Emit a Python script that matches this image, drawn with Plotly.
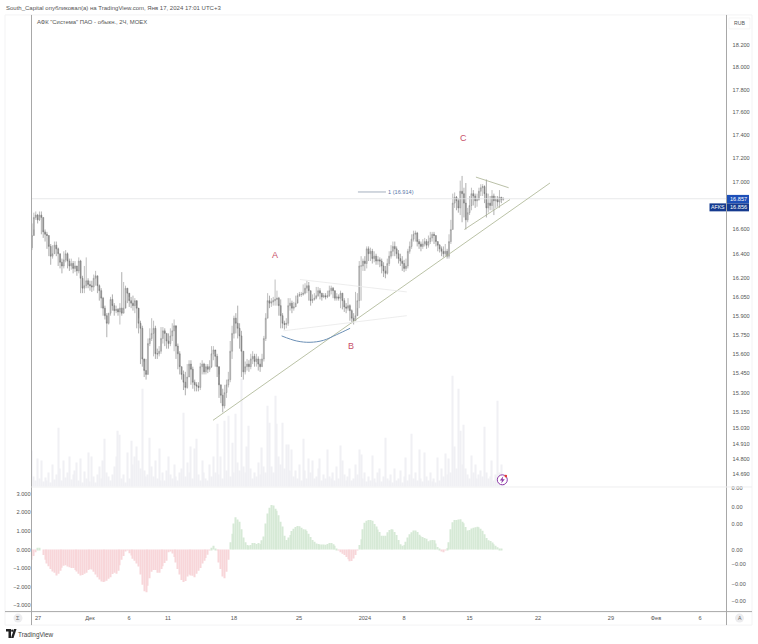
import math
import plotly.graph_objects as go

opens = [16.45,16.55,16.70,16.72,16.68,16.72,16.70,16.58,16.56,16.55,16.46,16.38,16.40,16.47,16.44,16.40,16.33,16.30,16.35,16.40,
16.34,16.30,16.32,16.28,16.30,16.26,16.34,16.20,16.12,16.14,16.18,16.15,16.14,16.13,16.20,16.22,16.14,16.10,16.04,15.96,
15.90,15.84,15.92,16.03,15.98,15.94,15.95,15.93,15.96,15.92,15.96,16.12,16.08,16.02,16.00,15.98,16.02,15.96,15.84,15.80,
15.56,15.47,15.44,15.68,15.72,15.76,15.80,15.60,15.60,15.62,15.72,15.78,15.76,15.70,15.68,15.74,15.78,15.82,15.66,15.60,
15.50,15.44,15.38,15.34,15.42,15.52,15.48,15.38,15.36,15.35,15.34,15.50,15.52,15.46,15.50,15.48,15.50,15.60,15.63,15.58,
15.50,15.36,15.28,15.20,15.30,15.36,15.40,15.62,15.76,15.88,15.84,15.80,15.74,15.62,15.46,15.50,15.52,15.50,15.56,15.58,
15.54,15.56,15.52,15.50,15.56,15.72,15.88,16.02,16.00,16.01,16.02,16.03,16.04,15.98,15.90,15.84,15.83,15.84,15.98,16.00,
15.96,15.97,16.00,16.06,16.07,16.07,16.08,16.12,16.14,16.10,16.02,16.03,16.04,16.06,16.10,16.08,16.05,16.06,16.05,16.06,
16.10,16.12,16.10,16.04,16.05,16.04,16.08,16.02,15.97,15.96,15.98,15.94,15.88,15.86,15.90,16.02,16.30,16.30,16.34,16.32,
16.44,16.40,16.42,16.36,16.38,16.34,16.35,16.34,16.30,16.26,16.24,16.32,16.38,16.42,16.46,16.44,16.40,16.36,16.34,16.32,
16.28,16.30,16.42,16.46,16.52,16.56,16.57,16.50,16.48,16.46,16.48,16.50,16.47,16.50,16.53,16.56,16.55,16.50,16.47,16.44,
16.42,16.40,16.42,16.38,16.50,16.60,16.82,16.87,16.84,16.78,16.92,16.90,16.82,16.68,16.74,16.80,16.90,16.88,16.84,16.85,
16.92,16.95,16.96,16.90,16.78,16.82,16.80,16.88,16.84,16.85,16.83,16.87,16.85]

highs = [16.65,16.74,16.75,16.73,16.75,16.75,16.70,16.60,16.58,16.55,16.48,16.47,16.50,16.50,16.45,16.40,16.36,16.42,16.43,16.41,
16.36,16.36,16.34,16.34,16.30,16.37,16.35,16.22,16.30,16.37,16.20,16.18,16.18,16.23,16.26,16.22,16.15,16.12,16.05,15.98,
15.92,15.92,16.05,16.07,16.00,15.98,15.96,16.00,16.25,16.17,16.14,16.12,16.05,16.05,16.06,16.04,15.98,15.88,15.86,15.82,
15.54,15.56,15.72,15.80,15.88,15.86,15.82,15.64,15.66,15.81,15.81,15.80,15.76,15.76,15.80,15.84,15.87,15.80,15.68,15.62,
15.50,15.47,15.46,15.52,15.55,15.55,15.50,15.40,15.38,15.38,15.53,15.55,15.53,15.52,15.52,15.55,15.66,15.66,15.62,15.60,
15.44,15.36,15.33,15.36,15.40,15.46,15.70,15.82,15.90,15.92,15.98,15.84,15.78,15.62,15.54,15.56,15.55,15.60,15.62,15.60,
15.60,15.58,15.56,15.60,15.74,15.92,16.08,16.06,16.04,16.05,16.19,16.10,16.05,16.03,15.92,15.86,15.88,16.04,16.04,16.02,
16.01,16.06,16.08,16.09,16.09,16.15,16.16,16.18,16.17,16.10,16.07,16.08,16.13,16.13,16.12,16.08,16.08,16.08,16.10,16.14,
16.14,16.13,16.10,16.08,16.07,16.10,16.08,16.04,16.00,16.04,15.99,15.95,15.92,16.09,16.08,16.34,16.38,16.36,16.38,16.46,
16.46,16.45,16.44,16.42,16.40,16.38,16.37,16.36,16.33,16.30,16.36,16.42,16.47,16.50,16.50,16.46,16.43,16.40,16.38,16.35,
16.36,16.44,16.50,16.56,16.59,16.59,16.58,16.52,16.50,16.52,16.53,16.52,16.55,16.58,16.58,16.58,16.55,16.50,16.48,16.46,
16.46,16.48,16.44,16.56,16.68,16.90,16.91,16.88,16.86,17.01,17.05,16.95,16.99,16.78,16.88,16.95,16.93,16.90,16.90,16.95,
16.98,16.98,16.97,17.02,16.90,16.88,16.93,16.90,16.88,16.88,16.93,16.87,16.87]

lows = [16.43,16.60,16.68,16.65,16.67,16.56,16.53,16.50,16.44,16.38,16.31,16.36,16.40,16.38,16.30,16.28,16.24,16.28,16.33,16.28,
16.26,16.27,16.24,16.25,16.22,16.24,16.08,16.08,16.08,16.12,16.12,16.10,16.09,16.10,16.14,16.08,16.02,15.96,15.90,15.87,
15.73,15.83,15.90,15.94,15.90,15.92,15.90,15.83,15.90,15.92,16.02,16.00,15.97,15.96,15.94,15.92,15.80,15.76,15.52,15.50,
15.42,15.40,15.44,15.66,15.70,15.58,15.56,15.56,15.58,15.60,15.68,15.66,15.64,15.64,15.66,15.70,15.62,15.56,15.48,15.44,
15.40,15.32,15.28,15.33,15.42,15.36,15.33,15.31,15.31,15.31,15.32,15.44,15.44,15.44,15.45,15.46,15.49,15.55,15.50,15.42,
15.26,15.22,15.15,15.18,15.26,15.34,15.38,15.56,15.72,15.76,15.72,15.64,15.42,15.40,15.44,15.47,15.46,15.48,15.52,15.50,
15.50,15.47,15.46,15.50,15.54,15.70,15.88,15.96,15.97,15.98,15.98,15.98,15.90,15.80,15.80,15.79,15.80,15.82,15.94,15.92,
15.94,15.97,16.03,16.05,16.05,16.06,16.07,16.08,16.02,15.98,16.00,16.02,16.03,16.05,16.03,16.02,16.04,16.03,16.04,16.05,
16.07,16.04,16.02,16.02,16.02,15.96,15.95,15.93,15.92,15.94,15.86,15.84,15.83,15.86,15.96,15.96,16.02,16.26,16.26,16.28,
16.34,16.34,16.32,16.33,16.31,16.31,16.29,16.24,16.21,16.20,16.23,16.30,16.36,16.38,16.38,16.36,16.32,16.30,16.26,16.25,
16.26,16.28,16.40,16.44,16.50,16.50,16.46,16.44,16.42,16.44,16.46,16.44,16.45,16.48,16.50,16.48,16.46,16.42,16.41,16.38,
16.37,16.38,16.36,16.36,16.48,16.60,16.78,16.76,16.74,16.72,16.66,16.70,16.60,16.66,16.72,16.76,16.80,16.78,16.79,16.84,
16.88,16.88,16.82,16.70,16.74,16.76,16.76,16.72,16.78,16.79,16.78,16.82,16.84]

closes = [16.55,16.70,16.72,16.68,16.72,16.70,16.58,16.56,16.55,16.46,16.38,16.40,16.47,16.44,16.40,16.33,16.30,16.35,16.40,16.34,
16.30,16.32,16.28,16.30,16.26,16.34,16.20,16.12,16.14,16.18,16.15,16.14,16.13,16.20,16.22,16.14,16.10,16.04,15.96,15.90,
15.84,15.92,16.03,15.98,15.94,15.95,15.93,15.96,15.92,15.96,16.12,16.08,16.02,16.00,15.98,16.02,15.96,15.84,15.80,15.56,
15.47,15.44,15.68,15.72,15.76,15.80,15.60,15.60,15.62,15.72,15.78,15.76,15.70,15.68,15.74,15.78,15.82,15.66,15.60,15.50,
15.44,15.38,15.34,15.42,15.52,15.48,15.38,15.36,15.35,15.34,15.50,15.52,15.46,15.50,15.48,15.50,15.60,15.63,15.58,15.50,
15.36,15.28,15.20,15.30,15.36,15.40,15.62,15.76,15.88,15.84,15.80,15.74,15.62,15.46,15.50,15.52,15.50,15.56,15.58,15.54,
15.56,15.52,15.50,15.56,15.72,15.88,16.02,16.00,16.01,16.02,16.03,16.04,15.98,15.90,15.84,15.83,15.84,15.98,16.00,15.96,
15.97,16.00,16.06,16.07,16.07,16.08,16.12,16.14,16.10,16.02,16.03,16.04,16.06,16.10,16.08,16.05,16.06,16.05,16.06,16.10,
16.12,16.10,16.04,16.05,16.04,16.08,16.02,15.97,15.96,15.98,15.94,15.88,15.86,15.90,16.02,16.30,16.30,16.34,16.32,16.44,
16.40,16.42,16.36,16.38,16.34,16.35,16.34,16.30,16.26,16.24,16.32,16.38,16.42,16.46,16.44,16.40,16.36,16.34,16.32,16.28,
16.30,16.42,16.46,16.52,16.56,16.57,16.50,16.48,16.46,16.48,16.50,16.47,16.50,16.53,16.56,16.55,16.50,16.47,16.44,16.42,
16.40,16.42,16.38,16.50,16.60,16.82,16.87,16.84,16.78,16.92,16.90,16.82,16.68,16.74,16.80,16.90,16.88,16.84,16.85,16.92,
16.95,16.96,16.90,16.78,16.82,16.80,16.88,16.84,16.85,16.83,16.87,16.85,16.856]

volumes = [36,10,6,28,8,26,5,9,6,14,4,22,7,12,59,18,6,26,9,14,
30,7,12,16,24,6,28,4,15,8,34,5,30,10,4,12,20,8,26,48,
14,10,6,12,20,30,56,52,8,12,4,34,8,46,22,30,40,26,18,98,
16,10,12,49,20,10,26,8,38,6,14,6,16,30,12,8,22,10,6,14,
18,74,10,24,14,40,8,38,48,12,6,26,14,8,6,22,10,30,14,63,
12,30,8,66,16,71,10,44,14,73,24,16,108,20,14,40,61,18,8,14,
10,24,12,39,20,14,81,64,20,14,91,63,30,22,64,18,42,42,16,37,
10,16,8,22,6,48,16,8,28,14,26,8,10,18,28,6,12,8,37,10,
8,14,6,20,8,41,26,12,6,10,18,6,8,22,12,37,32,8,14,5,
10,6,31,8,4,14,18,5,10,49,8,6,12,4,18,6,8,16,4,10,
29,6,12,53,8,14,6,37,8,5,34,10,6,14,5,8,4,29,6,18,
10,33,12,28,14,111,40,18,98,56,22,62,18,12,8,31,14,22,8,12,
16,10,60,14,8,10,26,6,12,86,14,22,4]

oscillator = [-.55,-.35,-.15,.1,.1,0,-.3,-.55,-.75,-.9,-1.05,-1.18,-1.25,-1.4,-1.3,-1.15,-.98,-.88,-.85,-.92,
-.95,-1.0,-1.0,-1.1,-1.18,-1.3,-1.4,-1.38,-1.3,-1.25,-1.1,-1.05,-1.08,-1.2,-1.35,-1.5,-1.62,-1.72,-1.75,-1.72,
-1.68,-1.58,-1.5,-1.32,-1.25,-1.3,-1.15,-.85,-.55,-.35,-.1,-.05,-.2,-.32,-.5,-.6,-.75,-.92,-1.35,-1.9,
-2.25,-2.3,-1.95,-1.55,-1.2,-1.1,-1.1,-1.25,-1.25,-1.05,-.9,-.72,-.6,-.15,-.1,-.22,-.4,-.7,-1.05,-1.35,
-1.65,-1.75,-1.7,-1.45,-1.35,-1.4,-1.42,-1.5,-1.3,-1.15,-1.0,-.75,-.6,-.45,-.28,-.05,.1,.2,.05,-.05,
-.7,-1.05,-1.45,-1.55,-1.2,-.55,.4,.85,1.4,1.75,1.62,1.5,1.1,.65,.4,.25,.2,.25,.35,.35,
.3,.35,.3,.5,.7,1.4,1.95,2.25,2.4,2.38,2.2,2.1,1.85,
1.5,1.25,.75,.52,.65,.78,1.0,1.12,1.22,1.27,1.26,1.17,1.1,1.08,1.0,.85,.68,.52,.42,.33,
.3,.27,.27,.27,.26,.3,.35,.36,.28,.2,.06,-.05,-.15,-.23,-.3,-.4,-.52,-.63,-.62,-.48,
-.3,-.05,.25,.55,1.1,1.45,1.55,1.6,1.6,1.55,1.38,1.25,1.08,.95,.75,.75,.75,.93,1.06,1.1,
1.08,.95,.78,.52,.28,.2,.24,.42,.65,.83,.93,1.03,1.03,.95,.8,.72,.68,.63,.58,.45,
.5,.52,.5,.32,.14,.04,-.07,-.15,-.05,.08,.4,1.1,1.48,1.6,1.6,1.62,1.63,1.5,1.42,1.22,
1.03,1.05,1.14,1.18,1.2,1.23,1.2,1.12,1.02,.82,.62,.5,.46,.38,.28,.2,.12,.03,.02]

x_tick_bars = [3.2,31,51.9,72.7,108,142.8,178,199,234,270.6,309.6,333.7,357.2]
x_tick_labels = ["27","Дек","6","11","18","25","2024","8","15","22","29","Фев","6"]
price_ticks = [18.2,18.0,17.8,17.6,17.4,17.2,17.0,16.6,16.4,16.2,16.05,15.9,15.75,15.6,15.45,15.3,15.15,15.03,14.91,14.8,14.69]
price_tick_labels = ["18.200","18.000","17.800","17.600","17.400","17.200","17.000","16.600","16.400","16.200","16.050","15.900","15.750","15.600","15.450","15.300","15.150","15.030","14.910","14.800","14.690"]
osc_ticks = [3,2,1,0,-1,-2,-3]
osc_tick_labels = ["3.000","2.000","1.000","0.000","−1.000","−2.000","−3.000"]
osc_right_ticks = [3.3,2.27,1.4,0,-.8,-1.84,-2.8]
osc_right_labels = ["0.00","0.00","0.00","0.00","−0.00","−0.00","−0.00"]

trend_bars = [96.8,277]; trend_prices = [15.09,16.99]
tri_up_bars = [237.4,254.9]; tri_up_prices = [17.04,16.95]
tri_lo_bars = [231.2,255.6]; tri_lo_prices = [16.60,16.85]
light_up_bars = [143.3,200.4]; light_up_prices = [16.19,16.09]
light_lo_bars = [134.4,200.4]; light_lo_prices = [15.78,15.90]
arc_bars = [133.5,141.6,148.7,155.8,162.9,170.1]; arc_prices = [15.74,15.70,15.69,15.705,15.75,15.80]
fib_bars = [174.3,189.3]; fib_prices = [16.914,16.914]
last_price = 16.857
wave_labels = [("A",130,16.39),("B",170.6,15.66),("C",231,17.38)]

FONT = "Liberation Sans"
def px(x): return x/758
def py(y): return 1-y/644

bars = list(range(len(closes)))
y_low, y_high = math.log10(14.61), math.log10(18.483)
x_range = [-0.27, 371.4]

fig = go.Figure()
fig.add_trace(go.Bar(x=list(range(len(volumes))), y=volumes, yaxis="y", marker=dict(color="#f0f0f4", line_width=0), width=0.62, hoverinfo="skip"))
fig.add_trace(go.Bar(x=list(range(len(oscillator))), y=oscillator, yaxis="y2",
    marker=dict(color=["#d6e9d6" if v >= 0 else "#f8d6d9" for v in oscillator], line_width=0), width=0.55, hoverinfo="skip"))
fig.add_trace(go.Scatter(x=[0], y=[0], yaxis="y3", mode="markers", marker=dict(opacity=0), hoverinfo="skip"))

def line(xs, ys, color, width=0.8, dash="solid", shape="linear"):
    fig.add_trace(go.Scatter(x=xs, y=ys, yaxis="y4", mode="lines", line=dict(color=color, width=width, dash=dash, shape=shape, smoothing=1), hoverinfo="skip"))

line(x_range, [last_price, last_price], "#e2e3e6", 0.8)
fig.add_trace(go.Candlestick(x=bars, open=opens, high=highs, low=lows, close=closes, yaxis="y4", whiskerwidth=0, opacity=0.9,
    increasing=dict(line=dict(color="#808080", width=0.55), fillcolor="#c4c4c4"),
    decreasing=dict(line=dict(color="#5e5e5e", width=0.55), fillcolor="#949494"), hoverinfo="skip"))
line(trend_bars, trend_prices, "#b2bb9c", 0.9)
line(tri_up_bars, tri_up_prices, "#a8b090", 0.8)
line(tri_lo_bars, tri_lo_prices, "#a8b090", 0.8)
line(light_up_bars, light_up_prices, "#e8e9e8", 0.8)
line(light_lo_bars, light_lo_prices, "#e8e9e8", 0.8)
line(arc_bars, arc_prices, "#6b8fb5", 1.0, shape="spline")
line(fib_bars, fib_prices, "#9aa7b8", 0.9)

annotations = [
    dict(text=t, x=b, y=math.log10(p), xref="x", yref="y4", showarrow=False, font=dict(family=FONT, size=9, color="#c8506a"))
    for t, b, p in wave_labels
]
annotations.append(dict(text="1 (16.914)", x=197.3, y=math.log10(16.914), xref="x", yref="y4", showarrow=False, font=dict(family=FONT, size=5.6, color="#5b78a8")))

def label(text, x, y, size=6, color="#555", anchor="left", **kw):
    annotations.append(dict(text=text, x=px(x), y=py(y), xref="paper", yref="paper", xanchor=anchor, yanchor="middle",
        showarrow=False, font=dict(family=FONT, size=size, color=color), **kw))

label("South_Capital опубликовал(а) на TradingView.com, Янв 17, 2024 17:01 UTC+3", 3.5, 6.3, 6.0)
label("АФК \"Система\" ПАО - обыкн., 2Ч, MOEX", 34.5, 20, 5.9)
label("RUB", 739.5, 21, 5.2, anchor="center")
label("16.857", 738, 197.5, 5.6, "#ffffff", "center")
label("16.856", 738, 205.5, 5.6, "#ffffff", "center")
label("AFKS", 717.5, 205.5, 5.2, "#ffffff", "center")
label("Σ", 18, 618, 5.6, "#666", "center")
label("A", 739.5, 618, 5.2, "#666", "center")
label("TradingView", 15.5, 635, 6.4, "#444")

def rect(x0, y0, x1, y1, fill=None, color=None, width=0, layer="above"):
    return dict(type="rect", xref="paper", yref="paper", x0=px(x0), x1=px(x1), y0=py(y0), y1=py(y1),
                fillcolor=fill or "rgba(0,0,0,0)", line=dict(color=color or "rgba(0,0,0,0)", width=width), layer=layer)
def seg(x0, y0, x1, y1, color, width=1):
    return dict(type="line", xref="paper", yref="paper", x0=px(x0), x1=px(x1), y0=py(y0), y1=py(y1), line=dict(color=color, width=width))
def circ(cx, cy, r, fill=None, color=None, width=0):
    return dict(type="circle", xref="paper", yref="paper", x0=px(cx-r), x1=px(cx+r), y0=py(cy-r), y1=py(cy+r),
                fillcolor=fill or "rgba(0,0,0,0)", line=dict(color=color or "rgba(0,0,0,0)", width=width))
def poly(points, fill):
    d = "M " + " L ".join(f"{px(a):.5f} {py(b):.5f}" for a, b in points) + " Z"
    return dict(type="path", xref="paper", yref="paper", path=d, fillcolor=fill, line=dict(width=0))

shapes = [
    rect(5, 13, 752, 625, None, "#f3f3f4", 1, "below"),
    seg(31.5, 13, 31.5, 625, "#a8a8a8", 1),
    seg(726.5, 13, 726.5, 625, "#a8a8a8", 1),
    seg(5, 611.5, 752, 611.5, "#a8a8a8", 1),
    seg(31.5, 486.5, 752, 486.5, "#eeeeef", 1),
    rect(729, 16, 750, 27, "#ffffff", "#f0f0f0", 0.6),
    rect(727, 193.5, 749, 202, "#1d4fb8"),
    rect(727, 202, 749, 210, "#153a8f"),
    rect(709.5, 202, 726, 210, "#153a8f"),
    circ(18, 618, 4.5, "#ececee"),
    circ(739.5, 618, 4.5, "#ececee"),
    circ(502.3, 479.3, 5, "#ffffff", "#8e3aa8", 1),
    poly([(503.3,475.8),(499.8,480),(502,480),(501.2,483),(504.8,478.8),(502.6,478.8)], "#8e3aa8"),
    circ(505.8, 475.6, 1.3, "#e53935"),
    poly([(6,629),(11,629),(11,638),(8.5,638),(8.5,631.5),(6,631.5)], "#222"),
    circ(12.3, 630.6, 1.2, "#222"),
    poly([(14,629),(16.5,629),(13.5,638),(11,638)], "#222"),
]

fig.update_layout(
    width=758, height=644, margin=dict(l=0, r=0, t=0, b=0), paper_bgcolor="#ffffff", plot_bgcolor="rgba(0,0,0,0)",
    showlegend=False, barmode="overlay", annotations=annotations, shapes=shapes, dragmode=False,
    xaxis=dict(domain=[px(31.5), px(726.5)], range=x_range, anchor="y2", tickvals=x_tick_bars, ticktext=x_tick_labels,
               showgrid=False, zeroline=False, showline=False, ticks="outside", ticklen=1, tickcolor="rgba(0,0,0,0)",
               tickfont=dict(family=FONT, size=5.6, color="#555"), rangeslider=dict(visible=False), tickangle=0),
    yaxis=dict(domain=[py(486), py(14)], range=[0, 472], visible=False, fixedrange=True),
    yaxis2=dict(domain=[py(611.5), py(487)], range=[-3.35, 3.35], anchor="x", side="left", tickvals=osc_ticks, ticktext=osc_tick_labels,
                showgrid=False, zeroline=False, showline=False, ticks="", tickfont=dict(family=FONT, size=5.6, color="#555")),
    yaxis3=dict(overlaying="y2", range=[-3.35, 3.35], anchor="x", side="right", tickvals=osc_right_ticks, ticktext=osc_right_labels,
                showgrid=False, zeroline=False, showline=False, ticks="outside", ticklen=3, tickcolor="rgba(0,0,0,0)",
                tickfont=dict(family=FONT, size=5.6, color="#555")),
    yaxis4=dict(domain=[py(484.5), py(12.5)], type="log", range=[y_low, y_high], anchor="x", side="right", tickvals=price_ticks, ticktext=price_tick_labels,
                showgrid=False, zeroline=False, showline=False, ticks="outside", ticklen=4, tickcolor="rgba(0,0,0,0)",
                tickfont=dict(family=FONT, size=5.6, color="#555")),
)
fig.write_html("out.html", config={"displayModeBar": False}, post_script="document.body.style.margin='0';document.documentElement.style.overflow='hidden';")
